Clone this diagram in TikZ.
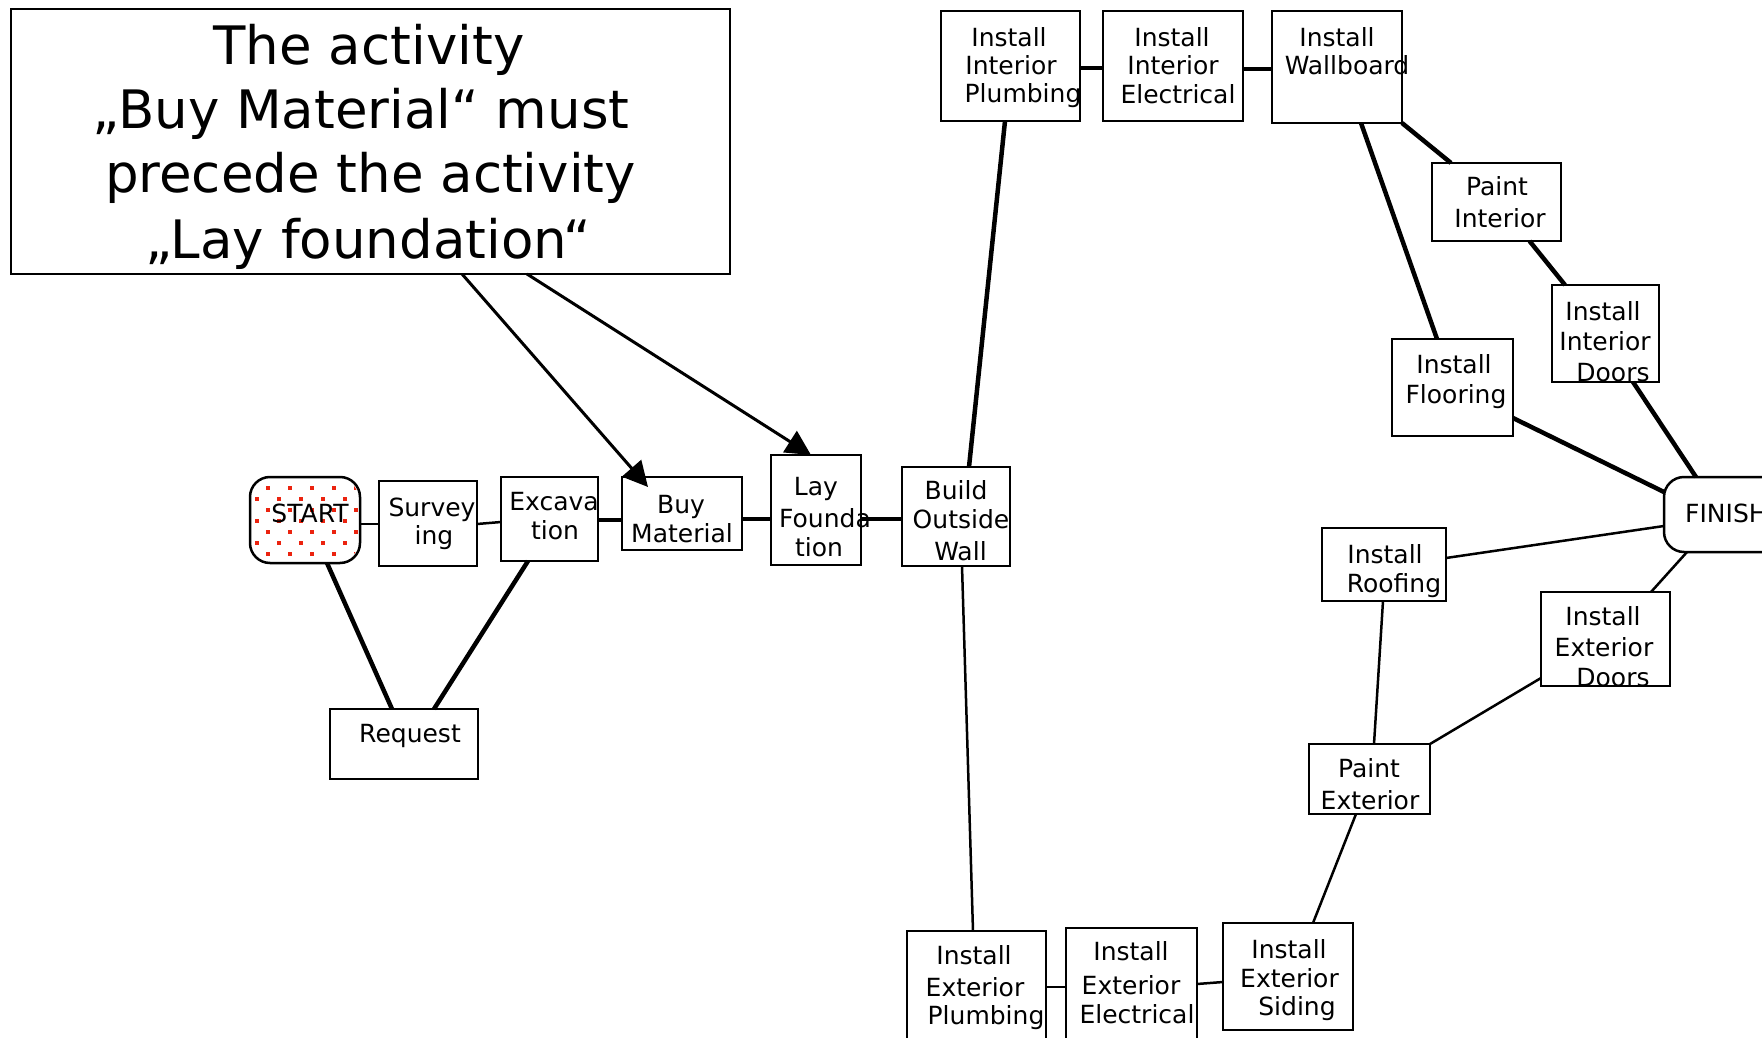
\documentclass[tikz,border=0pt]{standalone}
\usepackage{fontspec}
\setmainfont{DejaVu Sans}
\usetikzlibrary{arrows.meta}
\definecolor{dotred}{RGB}{235,35,15}
\newcommand\wtext[3]{\node[lbl] (#1) at (#2) {#3};}
\begin{document}
\begin{tikzpicture}[x=1pt,y=-1pt,
  box/.style={draw, line width=2.5pt, fill=white, inner sep=0pt, outer sep=0pt},
  rbox/.style={box, rounded corners=20pt},
  thickc/.style={line width=4.5pt},
  thinc/.style={line width=2.5pt},
  arr/.style={line width=3pt, -{Triangle[length=25pt,width=25pt]}},
  lbl/.style={anchor=base, inner sep=0pt, font=\fontsize{25}{30}\selectfont},
  ttl/.style={anchor=base, inner sep=0pt, font=\fontsize{53}{64}\selectfont},
]
\useasboundingbox (0,0) rectangle (1762,1038);
\fill[white] (0,0) rectangle (1762,1038);
\clip (0,0) rectangle (1762,1038);

% boxes
\node[box, minimum width=719pt, minimum height=265pt] (callout) at (370.5,141.5) {};
\node[rbox, minimum width=110pt, minimum height=86pt] (start) at (305,520) {};
\node[box, minimum width=98pt, minimum height=85pt] (surv) at (428,523.5) {};
\node[box, minimum width=97pt, minimum height=84pt] (exc) at (549.5,519) {};
\node[box, minimum width=120pt, minimum height=73pt] (buy) at (682,513.5) {};
\node[box, minimum width=90pt, minimum height=110pt] (lay) at (816,510) {};
\node[box, minimum width=148pt, minimum height=70pt] (req) at (404,744) {};
\node[box, minimum width=108pt, minimum height=99pt] (build) at (956,516.5) {};
\node[box, minimum width=139pt, minimum height=110pt] (iplumb) at (1010.5,66) {};
\node[box, minimum width=140pt, minimum height=110pt] (ielec) at (1173,66) {};
\node[box, minimum width=130pt, minimum height=112pt] (wall) at (1337,67) {};
\node[box, minimum width=129pt, minimum height=78pt] (pint) at (1496.5,202) {};
\node[box, minimum width=107pt, minimum height=97pt] (idoors) at (1605.5,333.5) {};
\node[box, minimum width=121pt, minimum height=97pt] (floor) at (1452.5,387.5) {};
\node[rbox, minimum width=126pt, minimum height=75pt] (finish) at (1727,514.5) {};
\node[box, minimum width=124pt, minimum height=73pt] (roof) at (1384,564.5) {};
\node[box, minimum width=129pt, minimum height=94pt] (edoors) at (1605.5,639) {};
\node[box, minimum width=121pt, minimum height=70pt] (pext) at (1369.5,779) {};
\node[box, minimum width=139pt, minimum height=129pt] (eplumb) at (976.5,995.5) {};
\node[box, minimum width=131pt, minimum height=132pt] (eelec) at (1131.5,994) {};
\node[box, minimum width=130pt, minimum height=107pt] (siding) at (1288,976.5) {};

% dotted fill of START
\begin{scope}
\clip[rounded corners=20pt] (251.5,478.5) rectangle (358.5,561.5);
\foreach \i in {0,...,6} {
  \foreach \j in {0,...,5} {
    \pgfmathsetmacro\dx{257+22*\j+11*mod(\i+1,2)}
    \pgfmathsetmacro\dy{488+11*\i}
    \fill[dotred] (\dx-1.6,\dy-1.6) rectangle ++(3.2,3.2);
  }
}
\end{scope}

% connectors
\draw[thinc] ([yshift=-47pt]start.north east) -- ([yshift=-43pt]surv.north west);
\draw[thinc] ([yshift=-43pt]surv.north east) -- ([yshift=-45pt]exc.north west);
\draw[thickc] ([yshift=-43pt]exc.north east) -- ([yshift=-43pt]buy.north west);
\draw[thickc] ([yshift=-42pt]buy.north east) -- ([yshift=-64pt]lay.north west);
\draw[thickc] ([yshift=-64pt]lay.north east) -- ([yshift=-52pt]build.north west);
\draw[thickc] ([xshift=77pt]start.south west) -- ([xshift=62pt]req.north west);
\draw[thickc] ([xshift=104pt]req.north west) -- ([xshift=27pt]exc.south west);
\draw[thickc] ([xshift=67pt]build.north west) -- ([xshift=64pt]iplumb.south west);
\draw[thickc] ([yshift=-57pt]iplumb.north east) -- ([yshift=-57pt]ielec.north west);
\draw[thickc] ([yshift=-58pt]ielec.north east) -- ([yshift=-58pt]wall.north west);
\draw[thickc] (wall.south east) -- ([xshift=19pt]pint.north west);
\draw[thickc] ([xshift=89pt]wall.south west) -- ([xshift=45pt]floor.north west);
\draw[thickc] ([xshift=97.5pt]pint.south west) -- ([xshift=13pt]idoors.north west);
\draw[thickc] ([yshift=-79pt]floor.north east) -- ([yshift=-15pt]finish.north west);
\draw[thickc] ([xshift=81pt]idoors.south west) -- ([xshift=32pt]finish.north west);
\draw[thinc] ([yshift=-30pt]roof.north east) -- ([yshift=-49pt]finish.north west);
\draw[thinc] ([xshift=23pt]finish.south west) -- ([xshift=110pt]edoors.north west);
\draw[thinc] ([yshift=-86pt]edoors.north west) -- (pext.north east);
\draw[thinc] ([xshift=61pt]roof.south west) -- ([xshift=65pt]pext.north west);
\draw[thinc] ([xshift=47pt]pext.south west) -- ([xshift=90pt]siding.north west);
\draw[thinc] ([xshift=60pt]build.south west) -- ([xshift=66pt]eplumb.north west);
\draw[thinc] ([yshift=-56pt]eplumb.north east) -- ([yshift=-59pt]eelec.north west);
\draw[thinc] ([yshift=-56pt]eelec.north east) -- ([yshift=-59pt]siding.north west);
\draw[arr] ([xshift=451pt]callout.south west) -- ([xshift=26pt,yshift=-10pt]buy.north west);
\draw[arr] ([xshift=516pt]callout.south west) -- ([xshift=40pt]lay.north west);

% texts
\node[ttl] (title1) at (369,65) {The activity};
\node[ttl] (title2) at (361,129) {„Buy Material“ must};
\node[ttl] (title3) at (370.5,193) {precede the activity};
\node[ttl] (title4) at (368,258) {„Lay foundation“};

\wtext{startt}{310,522}{START}
\wtext{survt1}{432,516}{Survey}
\wtext{survt2}{434,544}{ing}
\wtext{exct1}{554,510}{Excava}
\wtext{exct2}{555,539}{tion}
\wtext{buyt1}{681,513}{Buy}
\wtext{buyt2}{682,542}{Material}
\wtext{layt1}{816,495}{Lay}
\wtext{layt2}{825,527}{Founda}
\wtext{layt3}{819,556}{tion}
\wtext{reqt}{410,742}{Request}
\wtext{buildt1}{956,499}{Build}
\wtext{buildt2}{961,528}{Outside}
\wtext{buildt3}{960.5,560}{Wall}
\wtext{iplumbt1}{1009,47}{Install}
\wtext{iplumbt2}{1011,75}{Interior}
\wtext{iplumbt3}{1023,103}{Plumbing}
\wtext{ielect1}{1172,47}{Install}
\wtext{ielect2}{1173,75}{Interior}
\wtext{ielect3}{1178,104}{Electrical}
\wtext{wallt1}{1337,47}{Install}
\wtext{wallt2}{1347,75}{Wallboard}
\wtext{pintt1}{1497,196}{Paint}
\wtext{pintt2}{1500,227}{Interior}
\wtext{idoorst1}{1603,320}{Install}
\wtext{idoorst2}{1605,350}{Interior}
\wtext{idoorst3}{1613,381}{Doors}
\wtext{floort1}{1454,373}{Install}
\wtext{floort2}{1456,403}{Flooring}
\node[lbl, anchor=base west] (finisht) at (1685,522) {FINISH};
\wtext{rooft1}{1385,563}{Install}
\wtext{rooft2}{1394,592}{Roofing}
\wtext{edoorst1}{1603,625}{Install}
\wtext{edoorst2}{1604,656}{Exterior}
\wtext{edoorst3}{1613,686}{Doors}
\wtext{pextt1}{1369,777}{Paint}
\wtext{pextt2}{1370,809}{Exterior}
\wtext{eplumbt1}{974,964}{Install}
\wtext{eplumbt2}{975,996}{Exterior}
\wtext{eplumbt3}{986,1024}{Plumbing}
\wtext{eelect1}{1131,960}{Install}
\wtext{eelect2}{1131,994}{Exterior}
\wtext{eelect3}{1137,1023}{Electrical}
\wtext{sidingt1}{1289,958}{Install}
\wtext{sidingt2}{1289.5,987}{Exterior}
\wtext{sidingt3}{1297,1015}{Siding}
\end{tikzpicture}
\end{document}
